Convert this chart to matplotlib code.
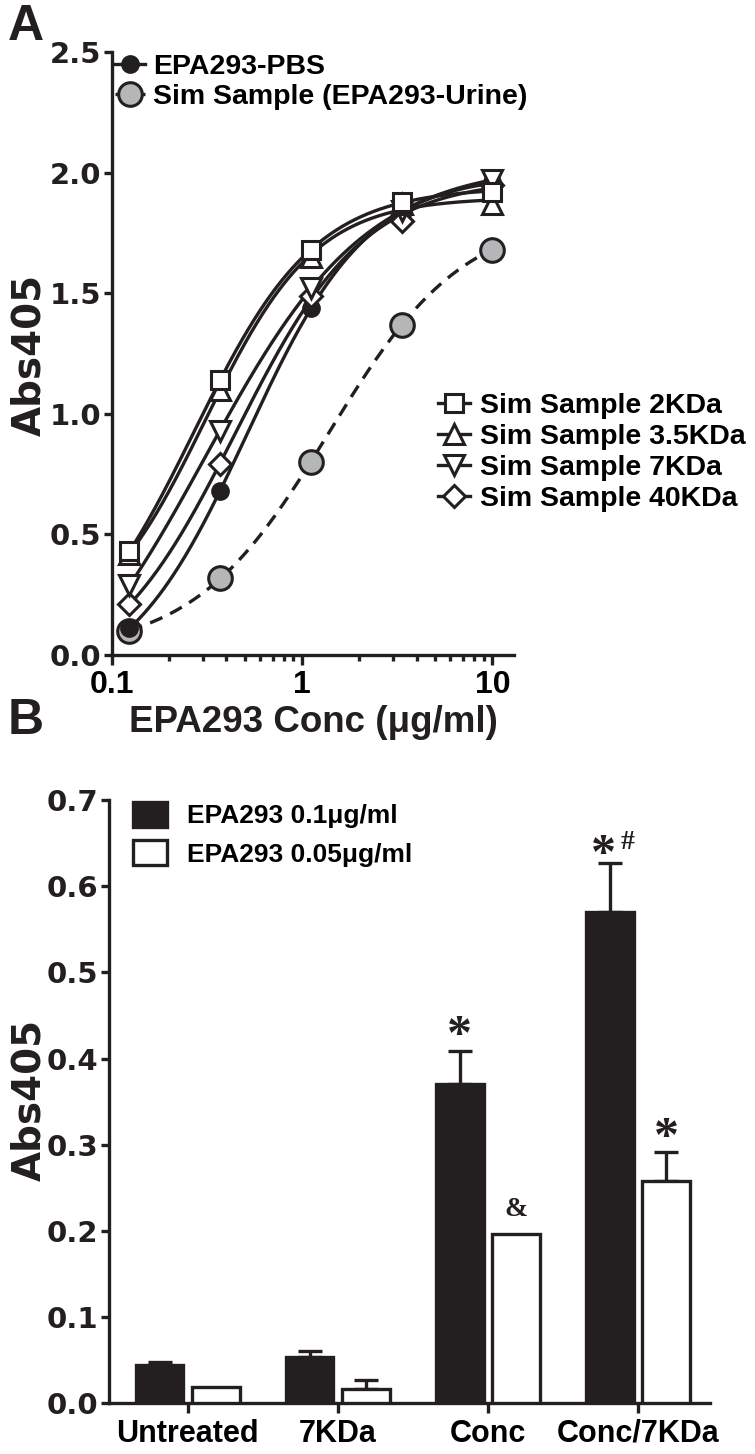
import numpy as np
import matplotlib
matplotlib.use('Agg')
from matplotlib import pyplot as plt
from matplotlib.ticker import LogLocator, NullFormatter, FixedLocator

# ---------------- data: panel A (dose response) ----------------
conc = [10 / 81, 10 / 27, 10 / 9, 10 / 3, 10]
pbs = [0.11, 0.68, 1.44, 1.83, 1.96]
urine = [0.10, 0.32, 0.80, 1.37, 1.68]
kda2 = [0.43, 1.14, 1.68, 1.88, 1.92]
kda35 = [0.42, 1.10, 1.65, 1.87, 1.87]
kda7 = [0.29, 0.93, 1.52, 1.84, 1.97]
kda40 = [0.21, 0.79, 1.49, 1.80, 1.95]

# ---------------- data: panel B (bars) ----------------
groups = ['Untreated', '7KDa', 'Conc', 'Conc/7KDa']
dose_hi = [0.045, 0.054, 0.370, 0.570]
dose_hi_err = [0.003, 0.007, 0.039, 0.057]
dose_lo = [0.019, 0.017, 0.197, 0.258]
dose_lo_err = [0.0, 0.010, 0.0, 0.033]

INK = '#231f20'
GREY = '#b5b6b8'
LW = 2.4

WIDE = ['DejaVu Sans']
SANS = ['Liberation Sans', 'DejaVu Sans']
SERIF = ['Liberation Serif', 'DejaVu Serif']


def fit_4pl(x, y):
    # grid search on ec50 / hill, bottom and top by linear least squares
    x = np.asarray(x)
    y = np.asarray(y)
    logc = np.linspace(-1.5, 1.5, 301)[:, None, None]
    hill = np.linspace(0.3, 4.0, 186)[None, :, None]
    s = 1.0 / (1.0 + (10 ** logc / x) ** hill)
    u = 1 - s
    suu = (u * u).sum(-1)
    sss = (s * s).sum(-1)
    sus = (u * s).sum(-1)
    suy = (u * y).sum(-1)
    ssy = (s * y).sum(-1)
    det = suu * sss - sus ** 2
    b = (sss * suy - sus * ssy) / det
    t = (suu * ssy - sus * suy) / det
    pred = b[..., None] * u + t[..., None] * s
    err = ((pred - y) ** 2).sum(-1)
    i, j = np.unravel_index(np.argmin(err), err.shape)
    return b[i, j], t[i, j], 10 ** logc[i, 0, 0], hill[0, j, 0]


def curve(x, p):
    b, t, c, h = p
    return b + (t - b) / (1 + (c / x) ** h)


fig = plt.figure(figsize=(7.55, 14.54), dpi=100)

# ---------------- panel A ----------------
axA = fig.add_axes([112 / 755, 1 - 655 / 1454, 402 / 755, 603 / 1454])
xs = np.logspace(np.log10(conc[0]), np.log10(conc[-1]), 300)

series = [
    (urine, dict(marker='o', ms=17, mfc=GREY, mec=INK, mew=2.2), '--'),
    (pbs, dict(marker='o', ms=12, mfc=INK, mec=INK, mew=1.5), '-'),
    (kda40, dict(marker='D', ms=11, mfc='white', mec=INK, mew=2.2), '-'),
    (kda7, dict(marker='v', ms=14, mfc='white', mec=INK, mew=2.2), '-'),
    (kda35, dict(marker='^', ms=14, mfc='white', mec=INK, mew=2.2), '-'),
    (kda2, dict(marker='s', ms=13.5, mfc='white', mec=INK, mew=2.2), '-'),
]
handles = []
for vals, mstyle, ls in series:
    p = fit_4pl(conc, vals)
    ln, = axA.plot(xs, curve(xs, p), color=INK, lw=LW, ls=ls, zorder=2)
    if ls == '--':
        ln.set_dashes((4, 2.6))
    pt, = axA.plot(conc, vals, ls='none', zorder=3, clip_on=False, **mstyle)
    handles.append((ln, pt))

axA.set_xscale('log')
axA.set_xlim(0.1, 13)
axA.set_ylim(0, 2.5)
axA.set_yticks(np.arange(0, 2.51, 0.5))
axA.set_yticklabels(['%.1f' % v for v in np.arange(0, 2.51, 0.5)])
axA.xaxis.set_major_locator(FixedLocator([0.1, 1, 10]))
axA.set_xticklabels(['0.1', '1', '10'])
axA.xaxis.set_minor_locator(LogLocator(base=10, subs=np.arange(2, 10)))
axA.xaxis.set_minor_formatter(NullFormatter())

# ---------------- panel B ----------------
axB = fig.add_axes([109 / 755, 1 - 1403.3 / 1454, 601 / 755, 603.3 / 1454])
pos = np.arange(len(groups))
bw = 0.316
off = 0.187
b1 = axB.bar(pos - off, dose_hi, bw, color=INK, edgecolor=INK, lw=LW, zorder=3)
b2 = axB.bar(pos + off, dose_lo, bw, color='white', edgecolor=INK, lw=LW, zorder=3)
for xpos, vals, errs in [(pos - off, dose_hi, dose_hi_err), (pos + off, dose_lo, dose_lo_err)]:
    m = np.array(errs) > 0
    axB.errorbar(xpos[m], np.array(vals)[m],
                 yerr=[np.zeros(m.sum()), np.array(errs)[m]],
                 fmt='none', ecolor=INK, elinewidth=LW, capsize=8.5, capthick=LW, zorder=2)

axB.set_xlim(-0.525, 3.48)
axB.set_ylim(0, 0.7)
axB.set_yticks(np.arange(0, 0.71, 0.1))
axB.set_yticklabels(['%.1f' % v for v in np.arange(0, 0.71, 0.1)])
axB.set_xticks(pos)
axB.set_xticklabels(groups)

# significance marks
star_kw = dict(ha='center', va='center', fontsize=36, fontweight='bold', family=SERIF, color=INK)
small_kw = dict(ha='center', va='center', fontsize=20, fontweight='bold', family=SERIF, color=INK)
axB.text(pos[2] - off, dose_hi[2] + dose_hi_err[2] + 0.016, '*', **star_kw)
axB.text(pos[3] - off - 0.04, dose_hi[3] + dose_hi_err[3] + 0.008, '*', **star_kw)
axB.text(pos[3] - off + 0.12, dose_hi[3] + dose_hi_err[3] + 0.024, '#', **small_kw)
axB.text(pos[2] + off, dose_lo[2] + 0.028, '&', **small_kw)
axB.text(pos[3] + off, dose_lo[3] + dose_lo_err[3] + 0.016, '*', **star_kw)

# ---------------- common axis styling ----------------
for ax in (axA, axB):
    for side in ('top', 'right'):
        ax.spines[side].set_visible(False)
    for side in ('left', 'bottom'):
        ax.spines[side].set_linewidth(LW)
        ax.spines[side].set_color(INK)
        ax.spines[side].set_capstyle('projecting')
    ax.tick_params(axis='y', direction='out', length=6, width=LW, color=INK, pad=2)
    ax.tick_params(axis='x', which='major', direction='out', length=7, width=LW, color=INK, pad=4)
    for lab in ax.get_yticklabels():
        lab.set_family(WIDE)
        lab.set_fontweight('bold')
        lab.set_fontsize(21)
        lab.set_color(INK)
axA.tick_params(axis='x', which='minor', direction='out', length=4, width=LW, color=INK)
for lab in axA.get_xticklabels():
    lab.set_family(SANS)
    lab.set_fontweight('bold')
    lab.set_fontsize(23)
for lab in axB.get_xticklabels():
    lab.set_family(SANS)
    lab.set_fontweight('bold')
    lab.set_fontsize(22)

# ---------------- legends ----------------
leg_font = dict(family=SANS, weight='bold', size=20.5)
legA1 = axA.legend([handles[1], handles[0]],
                   ['EPA293-PBS', 'Sim Sample (EPA293-Urine)'],
                   loc='upper left', bbox_to_anchor=(0.0075, 0.9975), frameon=False,
                   prop=leg_font, borderpad=0, borderaxespad=0, handlelength=1.05,
                   handletextpad=0.3, labelspacing=0.15, numpoints=1)
axA.add_artist(legA1)
axA.legend([handles[5], handles[4], handles[3], handles[2]],
           ['Sim Sample 2KDa', 'Sim Sample 3.5KDa', 'Sim Sample 7KDa', 'Sim Sample 40KDa'],
           loc='upper left', bbox_to_anchor=(0.811, 0.435), frameon=False,
           prop=leg_font, borderpad=0, borderaxespad=0, handlelength=1.12,
           handletextpad=0.35, labelspacing=0.18, numpoints=1)
axB.legend([b1, b2], ['EPA293 0.1\u03bcg/ml', 'EPA293 0.05\u03bcg/ml'],
           loc='upper left', bbox_to_anchor=(0.04, 0.9975), frameon=False,
           prop=dict(family=SANS, weight='bold', size=19), borderpad=0, borderaxespad=0,
           handlelength=1.3, handleheight=1.1, handletextpad=0.75, labelspacing=0.45)

# ---------------- labels ----------------
fig.text(8 / 755, 1 - 40 / 1454, 'A', fontsize=36, fontweight='bold', family=SANS, color=INK)
fig.text(8 / 755, 1 - 734 / 1454, 'B', fontsize=36, fontweight='bold', family=SANS, color=INK)
fig.text(29 / 755, 1 - 355 / 1454, 'Abs405', rotation=90, ha='center', va='center',
         fontsize=28, fontweight='bold', family=WIDE, color=INK)
fig.text(29 / 755, 1 - 1100 / 1454, 'Abs405', rotation=90, ha='center', va='center',
         fontsize=28, fontweight='bold', family=WIDE, color=INK)
fig.text(313 / 755, 1 - 722 / 1454, 'EPA293 Conc (\u03bcg/ml)', ha='center', va='center',
         fontsize=26.5, fontweight='bold', family=SANS, color=INK)

fig.savefig('out.png', dpi=100)
